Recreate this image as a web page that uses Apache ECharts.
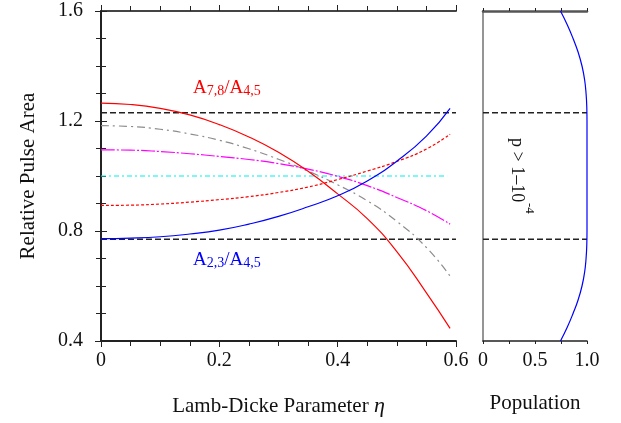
<!DOCTYPE html>
<html>
<head>
<meta charset="utf-8">
<script src="https://cdn.jsdelivr.net/npm/echarts@6/dist/echarts.min.js"></script>
<style>
  html, body { margin: 0; padding: 0; background: #fff; }
  #chart { width: 621px; height: 423px; }
</style>
</head>
<body>
<div id="chart"></div>
<script>
window.addEventListener("load", () => {
    const FONT = 'Liberation Serif'

    // Lamb-Dicke parameter samples
    const eta = [0, 0.05, 0.1, 0.15, 0.2, 0.25, 0.3, 0.35, 0.4, 0.45, 0.5, 0.55, 0.59]
    // relative pulse areas
    const ratio78 = [1.265, 1.260, 1.246, 1.222, 1.187, 1.142, 1.086, 1.017, 0.935, 0.845, 0.725, 0.575, 0.446]
    const grayCurve = [1.183, 1.180, 1.170, 1.153, 1.130, 1.099, 1.061, 1.018, 0.968, 0.910, 0.835, 0.740, 0.636]
    const magentaCurve = [1.095, 1.094, 1.089, 1.081, 1.071, 1.060, 1.045, 1.025, 0.999, 0.965, 0.922, 0.874, 0.825]
    const redDotted = [0.893, 0.894, 0.898, 0.905, 0.914, 0.925, 0.940, 0.960, 0.987, 1.018, 1.053, 1.098, 1.152]
    const ratio23 = [0.772, 0.774, 0.779, 0.789, 0.803, 0.825, 0.853, 0.888, 0.928, 0.982, 1.054, 1.145, 1.246]
    const cyanLevel = [[0, 1.0], [0.585, 1.0]]

    // p > 1-10^-4 band
    const upperBound = 1.23
    const lowerBound = 0.77

    // right panel: population vs pulse area
    const pulseArea = [1.6, 1.55, 1.5, 1.45, 1.4, 1.35, 1.3, 1.25, 1.2, 1.1, 1.0, 0.9, 0.8, 0.75, 0.7, 0.65, 0.6, 0.55, 0.5, 0.45, 0.4]
    const population = [0.745, 0.81, 0.866, 0.915, 0.952, 0.977, 0.991, 0.998, 1.0, 1.0, 1.0, 1.0, 1.0, 0.998, 0.991, 0.977, 0.952, 0.915, 0.866, 0.81, 0.745]

    const pairs = arr => eta.map((x, i) => [x, arr[i]])
    const curve = (arr, color, type) => ({
        type: 'line', xAxisIndex: 0, yAxisIndex: 0, data: pairs(arr),
        showSymbol: false, smooth: true, silent: true,
        lineStyle: { color: color, width: 1.2, type: type }
    })
    const hline = (v, x0, x1, xi, yi) => ({
        type: 'line', xAxisIndex: xi, yAxisIndex: yi, data: [[x0, v], [x1, v]],
        showSymbol: false, silent: true,
        lineStyle: { color: '#222', width: 1.3, type: [6, 3] }
    })

    const tickStyle = { color: '#222', width: 1 }
    const label = { fontFamily: FONT, fontSize: 20, color: '#111' }

    let option = {
        backgroundColor: '#fff',
        animation: false,
        grid: [
            { left: 101, top: 11, width: 355, height: 330 },
            { left: 483, top: 11, width: 104, height: 330 }
        ],
        xAxis: [
            {
                gridIndex: 0, type: 'value', min: 0, max: 0.6, interval: 0.2, position: 'bottom',
                axisLine: { lineStyle: { color: '#222', width: 2 } },
                axisTick: { length: 6, lineStyle: tickStyle },
                minorTick: { show: true, splitNumber: 4, length: 5, lineStyle: tickStyle },
                splitLine: { show: false },
                axisLabel: Object.assign({ margin: 10, formatter: v => v === 0 ? '0' : v.toFixed(1) }, label),
                name: 'Lamb-Dicke Parameter {i|η}', nameLocation: 'middle', nameGap: 54,
                nameTextStyle: { fontFamily: FONT, fontSize: 21, color: '#111',
                    rich: { i: { fontFamily: FONT, fontSize: 22, fontStyle: 'italic', color: '#111' } } }
            },
            {
                gridIndex: 0, type: 'value', min: 0, max: 0.6, interval: 0.2, position: 'top',
                axisLine: { lineStyle: { color: '#444', width: 2 } },
                axisTick: { length: 6, lineStyle: tickStyle },
                minorTick: { show: true, splitNumber: 4, length: 5, lineStyle: tickStyle },
                splitLine: { show: false }, axisLabel: { show: false }
            },
            {
                gridIndex: 1, type: 'value', min: 0, max: 1, interval: 0.25, position: 'bottom',
                axisLine: { lineStyle: { color: '#222', width: 1.5 } },
                axisTick: { length: 3, lineStyle: tickStyle },
                splitLine: { show: false },
                axisLabel: Object.assign({ margin: 10, showMinLabel: true, showMaxLabel: true,
                    formatter: v => v === 0 ? '0' : (v === 0.5 ? '0.5' : (v === 1 ? '1.0' : '')) }, label),
                name: 'Population', nameLocation: 'middle', nameGap: 52,
                nameTextStyle: { fontFamily: FONT, fontSize: 21, color: '#111' }
            },
            {
                gridIndex: 1, type: 'value', min: 0, max: 1, interval: 0.25, position: 'top',
                axisLine: { lineStyle: { color: '#555', width: 2.5 } },
                axisTick: { length: 3, lineStyle: tickStyle },
                splitLine: { show: false }, axisLabel: { show: false }
            }
        ],
        yAxis: [
            {
                gridIndex: 0, type: 'value', min: 0.4, max: 1.6, interval: 0.4, position: 'left',
                axisLine: { show: true, lineStyle: { color: '#222', width: 2 } },
                axisTick: { show: true, length: 6, lineStyle: tickStyle },
                minorTick: { show: true, splitNumber: 4, length: 5, lineStyle: tickStyle },
                splitLine: { show: false },
                axisLabel: Object.assign({ margin: 18, formatter: v => v.toFixed(1) }, label),
                name: 'Relative Pulse Area', nameLocation: 'middle', nameGap: 62, nameRotate: 90,
                nameTextStyle: { fontFamily: FONT, fontSize: 21, color: '#111' }
            },
            {
                gridIndex: 0, type: 'value', min: 0.4, max: 1.6, interval: 0.4, position: 'right',
                axisLine: { show: true, lineStyle: { color: '#222', width: 2 } },
                axisTick: { show: true, length: 6, lineStyle: tickStyle },
                minorTick: { show: true, splitNumber: 4, length: 5, lineStyle: tickStyle },
                splitLine: { show: false }, axisLabel: { show: false }
            },
            {
                gridIndex: 1, type: 'value', min: 0.4, max: 1.6, interval: 0.4, position: 'left',
                axisLine: { show: true, lineStyle: { color: '#222', width: 1.5 } },
                axisTick: { show: false }, splitLine: { show: false }, axisLabel: { show: false }
            },
            {
                gridIndex: 1, type: 'value', min: 0.4, max: 1.6, interval: 0.4, position: 'right',
                axisLine: { show: true, lineStyle: { color: '#aaa', width: 1.5 } },
                axisTick: { show: false }, splitLine: { show: false }, axisLabel: { show: false }
            }
        ],
        series: [
            hline(upperBound, 0, 0.6, 0, 0),
            hline(lowerBound, 0, 0.6, 0, 0),
            {
                type: 'line', xAxisIndex: 0, yAxisIndex: 0, data: cyanLevel,
                showSymbol: false, silent: true,
                lineStyle: { color: '#00f0f0', width: 1.2, type: [5, 3, 2, 3] }
            },
            curve(grayCurve, '#8c8c8c', [8, 4, 2, 4]),
            curve(magentaCurve, '#ff00ff', [14, 2, 2, 2]),
            curve(redDotted, '#ff0000', [3, 2]),
            curve(ratio78, '#ff0000', 'solid'),
            curve(ratio23, '#0000ff', 'solid'),
            hline(upperBound, 0, 1, 2, 2),
            hline(lowerBound, 0, 1, 2, 2),
            {
                type: 'line', xAxisIndex: 2, yAxisIndex: 2,
                data: pulseArea.map((a, i) => [population[i], a]),
                showSymbol: false, smooth: true, silent: true,
                lineStyle: { color: '#0000ff', width: 1.2 }
            }
        ],
        graphic: [
            {
                type: 'text', x: 193, y: 79, silent: true,
                style: {
                    text: '{a|A}{s|7,8}{a|/A}{s|4,5}', fill: '#ff0000',
                    rich: {
                        a: { fontFamily: FONT, fontSize: 19, lineHeight: 19, verticalAlign: 'top', fill: '#ff0000' },
                        s: { fontFamily: FONT, fontSize: 14, lineHeight: 14, verticalAlign: 'bottom', padding: [10, 0, 0, 0], fill: '#ff0000' }
                    }
                }
            },
            {
                type: 'text', x: 193, y: 251, silent: true,
                style: {
                    text: '{a|A}{s|2,3}{a|/A}{s|4,5}', fill: '#0000ff',
                    rich: {
                        a: { fontFamily: FONT, fontSize: 19, lineHeight: 19, verticalAlign: 'top', fill: '#0000ff' },
                        s: { fontFamily: FONT, fontSize: 14, lineHeight: 14, verticalAlign: 'bottom', padding: [10, 0, 0, 0], fill: '#0000ff' }
                    }
                }
            },
            // rotated band label, written top to bottom
            {
                type: 'text', x: 517, y: 138, rotation: -Math.PI / 2, silent: true,
                style: { text: 'p > 1–10', align: 'left', verticalAlign: 'middle', fill: '#111',
                    fontFamily: FONT, fontSize: 18 }
            },
            {
                type: 'text', x: 529, y: 203, rotation: -Math.PI / 2, silent: true,
                style: { text: '-4', align: 'left', verticalAlign: 'middle', fill: '#111',
                    fontFamily: FONT, fontSize: 13 }
            }
        ]
    };

    echarts.init(document.getElementById("chart")).setOption(option);
})
</script>
</body>
</html>
